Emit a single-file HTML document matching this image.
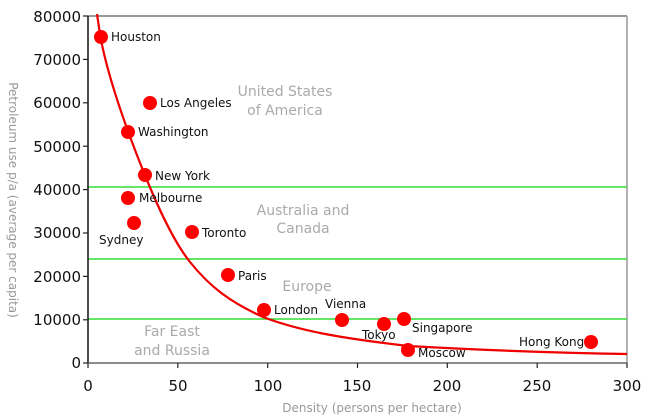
<!DOCTYPE html>
<html><head><meta charset="utf-8"><style>body{margin:0;background:#fff}svg{display:block}</style></head><body>
<svg width="655" height="419" viewBox="0 0 655 419" font-family="DejaVu Sans, sans-serif">
<rect width="655" height="419" fill="#fff"/>
<line x1="88" y1="16" x2="627" y2="16" stroke="#777" stroke-width="1.5"/>
<line x1="627" y1="16" x2="627" y2="363" stroke="#999" stroke-width="1.5"/>
<g stroke="#33dd33" stroke-width="1.5">
<line x1="88" y1="187" x2="627" y2="187"/><line x1="88" y1="259" x2="627" y2="259"/><line x1="88" y1="319" x2="627" y2="319"/>
</g>
<g fill="#aaa" font-size="14" text-anchor="middle">
<text x="285" y="96">United States</text><text x="285" y="115">of America</text>
<text x="303" y="215">Australia and</text><text x="303" y="233">Canada</text>
<text x="307" y="291">Europe</text>
<text x="172" y="336">Far East</text><text x="172" y="355">and Russia</text>
</g>
<path d="M97,14 C99,27 100,35 101,40 C108,75 120,110 132,142 C150,190 170,237 190,262 C210,287 230,302 263,317 C300,331 340,338 408,346 C480,350 560,353 627,354" fill="none" stroke="#e00" stroke-width="2.2" stroke-linejoin="round"/>
<line x1="88" y1="16" x2="88" y2="363" stroke="#111" stroke-width="1.5"/>
<line x1="88" y1="363" x2="627" y2="363" stroke="#666" stroke-width="1.5"/>
<g stroke="#222" stroke-width="1.2">
<line x1="83" y1="16" x2="88" y2="16"/><line x1="83" y1="59.4" x2="88" y2="59.4"/><line x1="83" y1="102.8" x2="88" y2="102.8"/><line x1="83" y1="146.2" x2="88" y2="146.2"/><line x1="83" y1="189.6" x2="88" y2="189.6"/><line x1="83" y1="233" x2="88" y2="233"/><line x1="83" y1="276.4" x2="88" y2="276.4"/><line x1="83" y1="319.8" x2="88" y2="319.8"/><line x1="83" y1="363" x2="88" y2="363"/>
<line x1="88" y1="363" x2="88" y2="368"/><line x1="177.8" y1="363" x2="177.8" y2="368"/><line x1="267.7" y1="363" x2="267.7" y2="368"/><line x1="357.5" y1="363" x2="357.5" y2="368"/><line x1="447.3" y1="363" x2="447.3" y2="368"/><line x1="537.2" y1="363" x2="537.2" y2="368"/><line x1="627" y1="363" x2="627" y2="368"/>
</g>
<g font-size="15" fill="#111" text-anchor="end">
<text x="81" y="22">80000</text><text x="81" y="65">70000</text><text x="81" y="108">60000</text><text x="81" y="152">50000</text><text x="81" y="195">40000</text><text x="81" y="238">30000</text><text x="81" y="282">20000</text><text x="81" y="325">10000</text><text x="81" y="368">0</text>
</g>
<g font-size="15" fill="#111" text-anchor="middle">
<text x="88" y="391">0</text><text x="178" y="391">50</text><text x="268" y="391">100</text><text x="357" y="391">150</text><text x="447" y="391">200</text><text x="537" y="391">250</text><text x="627" y="391">300</text>
</g>
<text x="372" y="412" font-size="12" fill="#999" text-anchor="middle">Density (persons per hectare)</text>
<text transform="translate(9,200) rotate(90)" font-size="12" fill="#999" text-anchor="middle">Petroleum use p/a (average per capita)</text>
<g fill="#f00">
<circle cx="101" cy="37" r="7"/><circle cx="150" cy="103" r="7"/><circle cx="128" cy="132" r="7"/><circle cx="145" cy="175" r="7"/><circle cx="128" cy="198" r="7"/><circle cx="134" cy="223" r="7"/><circle cx="192" cy="232" r="7"/><circle cx="228" cy="275" r="7"/><circle cx="264" cy="310" r="7"/><circle cx="342" cy="320" r="7"/><circle cx="384" cy="324" r="7"/><circle cx="404" cy="319" r="7"/><circle cx="408" cy="350" r="7"/><circle cx="591" cy="342" r="7"/>
</g>
<g font-size="12" fill="#111">
<text x="111" y="41">Houston</text><text x="160" y="107">Los Angeles</text><text x="138" y="136">Washington</text><text x="155" y="180">New York</text><text x="139" y="202">Melbourne</text><text x="99" y="244">Sydney</text><text x="202" y="237">Toronto</text><text x="238" y="280">Paris</text><text x="274" y="314">London</text><text x="325" y="308">Vienna</text><text x="362" y="339">Tokyo</text><text x="412" y="332">Singapore</text><text x="418" y="357">Moscow</text><text x="519" y="346">Hong Kong</text>
</g>
</svg>
</body></html>
